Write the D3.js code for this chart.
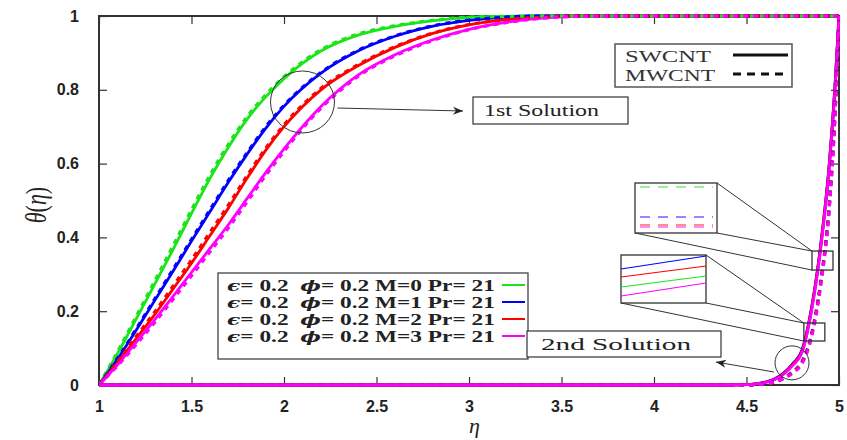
<!DOCTYPE html>
<html><head><meta charset="utf-8">
<script src="https://cdn.jsdelivr.net/npm/d3@7"></script>
<style>
html,body{margin:0;padding:0;background:#fff;}
svg{display:block;}
</style></head>
<body>
<svg id="chart" width="847" height="440"></svg>
<script>
// ---------- data ----------
const xTicks = [1, 1.5, 2, 2.5, 3, 3.5, 4, 4.5, 5];
const yTicks = [0, 0.2, 0.4, 0.6, 0.8, 1];
const seriesNames = ["M=0", "M=1", "M=2", "M=3"];
const seriesColors = ["#19e619", "#0000ff", "#ff0000", "#ff00ff"];
const legendM = ["0", "1", "2", "3"];
// first solution
const eta1 = [1, 1.1, 1.2, 1.3, 1.4, 1.5, 1.6, 1.7, 1.8, 1.9, 2.0, 2.2, 2.4, 2.6, 2.8, 3.0, 3.2, 3.4, 3.6, 4.0, 5.0];
const sw1_M0 = [0, 0.085, 0.178, 0.272, 0.367, 0.465, 0.56, 0.645, 0.72, 0.78, 0.83, 0.905, 0.948, 0.972, 0.987, 0.996, 0.999, 1, 1, 1, 1];
const sw1_M1 = [0, 0.07, 0.148, 0.228, 0.308, 0.39, 0.47, 0.55, 0.625, 0.695, 0.755, 0.845, 0.905, 0.945, 0.972, 0.988, 0.997, 1, 1, 1, 1];
const sw1_M2 = [0, 0.06, 0.125, 0.19, 0.26, 0.33, 0.405, 0.48, 0.56, 0.635, 0.70, 0.80, 0.865, 0.915, 0.952, 0.976, 0.99, 0.997, 1, 1, 1];
const sw1_M3 = [0, 0.055, 0.115, 0.176, 0.24, 0.305, 0.37, 0.435, 0.505, 0.575, 0.64, 0.755, 0.84, 0.895, 0.935, 0.964, 0.983, 0.994, 0.999, 1, 1];
const mw1_M0 = [0, 0.09, 0.185, 0.281, 0.377, 0.475, 0.569, 0.653, 0.727, 0.786, 0.835, 0.909, 0.951, 0.974, 0.988, 0.997, 0.999, 1, 1, 1, 1];
const mw1_M1 = [0, 0.072, 0.151, 0.232, 0.313, 0.395, 0.475, 0.555, 0.629, 0.699, 0.758, 0.847, 0.907, 0.946, 0.973, 0.989, 0.997, 1, 1, 1, 1];
const mw1_M2 = [0, 0.063, 0.131, 0.197, 0.268, 0.339, 0.414, 0.488, 0.567, 0.641, 0.705, 0.804, 0.868, 0.917, 0.953, 0.977, 0.99, 0.997, 1, 1, 1];
const mw1_M3 = [0, 0.052, 0.109, 0.169, 0.232, 0.296, 0.361, 0.426, 0.496, 0.567, 0.633, 0.75, 0.836, 0.892, 0.933, 0.963, 0.982, 0.994, 0.999, 1, 1];
// second solution
const eta2 = [1, 4.4, 4.5, 4.55, 4.6, 4.65, 4.7, 4.75, 4.8, 4.85, 4.9, 4.95, 4.98, 5];
const sw2_M0 = [0, 0, 0.001, 0.003, 0.007, 0.015, 0.03, 0.055, 0.09, 0.2, 0.37, 0.61, 0.82, 1];
const sw2_M1 = [0, 0, 0.001, 0.003, 0.008, 0.016, 0.032, 0.058, 0.095, 0.205, 0.375, 0.615, 0.825, 1];
const sw2_M2 = [0, 0, 0.001, 0.003, 0.007, 0.015, 0.031, 0.056, 0.092, 0.202, 0.372, 0.612, 0.822, 1];
const sw2_M3 = [0, 0, 0.001, 0.003, 0.007, 0.014, 0.029, 0.053, 0.088, 0.196, 0.365, 0.605, 0.815, 1];
const mw2_M0 = [0, 0, 0, 0.001, 0.003, 0.008, 0.018, 0.034, 0.06, 0.13, 0.27, 0.5, 0.75, 1];
const mw2_M1 = [0, 0, 0, 0.001, 0.003, 0.009, 0.019, 0.036, 0.063, 0.134, 0.275, 0.505, 0.755, 1];
const mw2_M2 = [0, 0, 0, 0.001, 0.003, 0.008, 0.018, 0.035, 0.061, 0.132, 0.272, 0.502, 0.752, 1];
const mw2_M3 = [0, 0, 0, 0.001, 0.003, 0.008, 0.017, 0.033, 0.058, 0.127, 0.266, 0.496, 0.745, 1];

const sw1 = [sw1_M0, sw1_M1, sw1_M2, sw1_M3];
const mw1 = [mw1_M0, mw1_M1, mw1_M2, mw1_M3];
const sw2 = [sw2_M0, sw2_M1, sw2_M2, sw2_M3];
const mw2 = [mw2_M0, mw2_M1, mw2_M2, mw2_M3];

// ---------- layout ----------
const svg = d3.select("#chart");
const W = 847, H = 440;
const m = {left: 99, right: 8, top: 16, bottom: 55};
const x = d3.scaleLinear().domain([1, 5]).range([m.left, W - m.right]);
const y = d3.scaleLinear().domain([0, 1]).range([H - m.bottom, m.top]);
const axisColor = "#333";
const serif = "'Liberation Serif', 'Times New Roman', serif";

svg.append("rect").attr("width", W).attr("height", H).attr("fill", "#fff");

svg.append("defs").append("clipPath").attr("id", "clip")
  .append("rect").attr("x", x(1)).attr("y", y(1) - 2)
  .attr("width", x(5) - x(1) + 1).attr("height", y(0) - y(1) + 4);

// frame first (curves overlay it as in the reference)
svg.append("rect").attr("x", x(1)).attr("y", y(1))
  .attr("width", x(5) - x(1)).attr("height", y(0) - y(1))
  .attr("fill", "none").attr("stroke", axisColor).attr("stroke-width", 2);

// ticks (inward, all four sides)
const tickLen = 8;
const gAx = svg.append("g");
gAx.append("g").attr("transform", `translate(0,${y(0)})`)
  .call(d3.axisBottom(x).tickValues(xTicks).tickSize(-tickLen).tickPadding(16).tickFormat(d3.format("")));
gAx.append("g").attr("transform", `translate(0,${y(1)})`)
  .call(d3.axisTop(x).tickValues(xTicks).tickSize(-tickLen).tickFormat(""));
gAx.append("g").attr("transform", `translate(${x(1)},0)`)
  .call(d3.axisLeft(y).tickValues(yTicks).tickSize(-tickLen).tickPadding(20).tickFormat(d3.format("")));
gAx.append("g").attr("transform", `translate(${x(5)},0)`)
  .call(d3.axisRight(y).tickValues(yTicks).tickSize(-tickLen).tickFormat(""));
gAx.selectAll(".domain").remove();
gAx.selectAll(".tick line").attr("stroke", axisColor).attr("stroke-width", 1.2);
gAx.selectAll(".tick text").attr("fill", "#222")
  .style("font-family", "'Liberation Sans', Arial, sans-serif")
  .style("font-weight", "bold").style("font-size", "16px");

// curves
const line = d3.line().curve(d3.curveMonotoneX);
const gc = svg.append("g").attr("clip-path", "url(#clip)");
function draw(etaArr, vals, color, dashed) {
  gc.append("path")
    .attr("d", line(etaArr.map((e, i) => [x(e), y(vals[i])])))
    .attr("fill", "none").attr("stroke", color)
    .attr("stroke-width", dashed ? 3.2 : 2.8)
    .attr("stroke-dasharray", dashed ? "5,5" : null);
}
seriesNames.forEach((n, i) => { draw(eta1, sw1[i], seriesColors[i], false); });
seriesNames.forEach((n, i) => { draw(eta1, mw1[i], seriesColors[i], true); });
seriesNames.forEach((n, i) => { draw(eta2, sw2[i], seriesColors[i], false); });
seriesNames.forEach((n, i) => { draw(eta2, mw2[i], seriesColors[i], true); });

// axis titles
svg.append("text").attr("x", x(3.03)).attr("y", 433).attr("text-anchor", "middle")
  .style("font-family", serif)
  .style("font-style", "italic").style("font-size", "22px").attr("fill", "#222").text("η");
svg.append("text").attr("transform", `translate(36,205) scale(1.35,1) rotate(-90)`).attr("text-anchor", "middle")
  .attr("dy", "0.35em")
  .style("font-family", serif)
  .style("font-size", "22px").attr("fill", "#222")
  .html('<tspan font-style="italic">θ</tspan>(<tspan font-style="italic">η</tspan>)');

// ---------- annotations ----------
// SWCNT / MWCNT legend
const lg2 = svg.append("g");
lg2.append("rect").attr("x", 615).attr("y", 44).attr("width", 177).attr("height", 43)
  .attr("fill", "#fff").attr("stroke", "#555").attr("stroke-width", 1.5);
[["SWCNT", null, 62, 86], ["MWCNT", "8,6", 81, 90]].forEach(([t, da, by, tl]) => {
  lg2.append("text").attr("x", 625).attr("y", by).text(t)
    .attr("textLength", tl).attr("lengthAdjust", "spacingAndGlyphs")
    .style("font-family", serif).style("font-size", "16px").attr("fill", "#333");
  lg2.append("line").attr("x1", 733).attr("x2", 788).attr("y1", by - 7).attr("y2", by - 7)
    .attr("stroke", "#111").attr("stroke-width", 3).attr("stroke-dasharray", da);
});

// main legend
const lg = svg.append("g");
lg.append("rect").attr("x", 218).attr("y", 273).attr("width", 310).attr("height", 86)
  .attr("fill", "#fff").attr("stroke", "#444").attr("stroke-width", 1.3);
const greek = "'DejaVu Serif', serif";
legendM.forEach((mv, i) => {
  const by = 291 + i * 17;
  const g = lg.append("g").attr("transform", `translate(227,${by})`);
  const t = g.append("text").attr("x", 0).attr("y", 0)
    .style("font-family", serif).style("font-weight", "bold").style("font-size", "16px")
    .attr("fill", "#222");
  t.append("tspan").style("font-family", greek).style("font-style", "italic").style("font-size", "15px").text("ϵ");
  t.append("tspan").text("= 0.2\u00a0\u00a0");
  t.append("tspan").style("font-family", greek).style("font-style", "italic").style("font-size", "15px").text("ϕ");
  t.append("tspan").text(`= 0.2 M=${mv} Pr= 21`);
  const len = t.node().getComputedTextLength();
  g.attr("transform", `translate(227,${by}) scale(${268 / len},1)`);
  lg.append("line").attr("x1", 502).attr("x2", 525).attr("y1", by - 6).attr("y2", by - 6)
    .attr("stroke", seriesColors[i]).attr("stroke-width", 2);
});

// arrow marker
svg.append("defs").append("marker").attr("id", "arr").attr("viewBox", "0 0 10 10")
  .attr("refX", 10).attr("refY", 5).attr("markerWidth", 11).attr("markerHeight", 10)
  .attr("markerUnits", "userSpaceOnUse").attr("orient", "auto")
  .append("path").attr("d", "M0,1 L10,5 L0,9 L3,5 Z").attr("fill", "#222");

const ann = svg.append("g").attr("fill", "none").attr("stroke", "#333").attr("stroke-width", 1);
// 1st solution
ann.append("ellipse").attr("cx", x(2.10)).attr("cy", y(0.767)).attr("rx", 32).attr("ry", 31);
ann.append("line").attr("x1", x(2.1) + 35).attr("y1", 108).attr("x2", 463).attr("y2", 111).attr("marker-end", "url(#arr)");
svg.append("rect").attr("x", 473).attr("y", 97).attr("width", 155).attr("height", 27)
  .attr("fill", "#fff").attr("stroke", "#333").attr("stroke-width", 1.2);
svg.append("text").attr("x", 484).attr("y", 116).text("1st Solution")
  .attr("textLength", 115).attr("lengthAdjust", "spacingAndGlyphs")
  .style("font-family", serif).style("font-size", "16px").attr("fill", "#222");

// 2nd solution
ann.append("circle").attr("cx", x(4.746)).attr("cy", y(0.06)).attr("r", 17);
ann.append("line").attr("x1", 774).attr("y1", 372).attr("x2", 716).attr("y2", 362).attr("marker-end", "url(#arr)");
svg.append("rect").attr("x", 527).attr("y", 331).attr("width", 194).attr("height", 26)
  .attr("fill", "#fff").attr("stroke", "#333").attr("stroke-width", 1.2);
svg.append("text").attr("x", 541).attr("y", 350).text("2nd Solution")
  .attr("textLength", 150).attr("lengthAdjust", "spacingAndGlyphs")
  .style("font-family", serif).style("font-size", "17px").attr("fill", "#222");

// zoom insets
const zb1 = {x: x(4.854), y: y(0.363), w: 21, h: 19};
const in1 = {x: 635, y: 183, w: 82, h: 50};
const zb2 = {x: x(4.81), y: y(0.168), w: 21, h: 18};
const in2 = {x: 621, y: 255, w: 85, h: 48};
[[zb1, in1], [zb2, in2]].forEach(([z, b]) => {
  ann.append("line").attr("x1", b.x + b.w).attr("y1", b.y).attr("x2", z.x).attr("y2", z.y);
  ann.append("line").attr("x1", b.x + b.w).attr("y1", b.y + b.h).attr("x2", z.x).attr("y2", z.y);
  ann.append("line").attr("x1", b.x).attr("y1", b.y + b.h).attr("x2", z.x).attr("y2", z.y + z.h);
  ann.append("rect").attr("x", b.x).attr("y", b.y).attr("width", b.w).attr("height", b.h)
    .attr("fill", "#fff").attr("stroke-width", 1.3);
  ann.append("rect").attr("x", z.x).attr("y", z.y).attr("width", z.w).attr("height", z.h).attr("stroke-width", 1.3);
});
// inset 1 content: dashed MWCNT lines (offsets within inset)
const in1Rows = [4, 34, 42, 44];
seriesColors.forEach((c, i) => {
  svg.append("line").attr("x1", in1.x + 5).attr("x2", in1.x + in1.w - 4)
    .attr("y1", in1.y + in1Rows[i]).attr("y2", in1.y + in1Rows[i])
    .attr("stroke", c).attr("stroke-opacity", 0.6).attr("stroke-width", 1.3).attr("stroke-dasharray", "10,8");
});
// inset 2 content: solid SWCNT lines, ordered blue, red, green, magenta
const in2Left = [14, 22, 32, 41];
const in2Right = [1, 11, 21, 28];
const in2Order = [1, 2, 0, 3];
in2Order.forEach((ci, k) => {
  svg.append("line").attr("x1", in2.x).attr("x2", in2.x + in2.w)
    .attr("y1", in2.y + in2Left[k]).attr("y2", in2.y + in2Right[k])
    .attr("stroke", seriesColors[ci]).attr("stroke-width", 1.2);
});
</script>
</body></html>
